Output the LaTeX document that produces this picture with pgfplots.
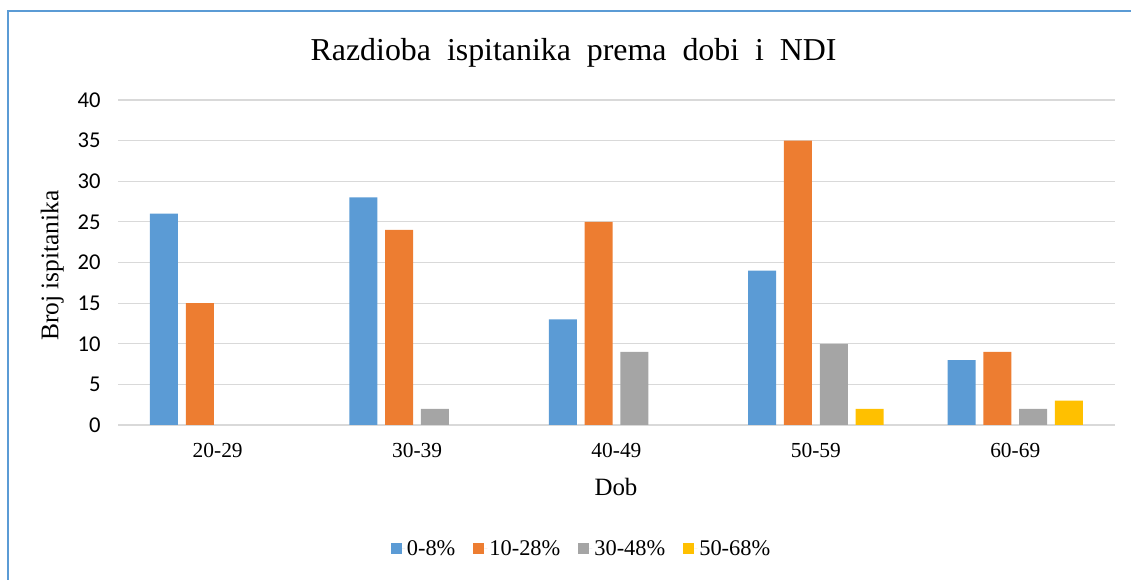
\documentclass[border=0pt]{standalone}
\usepackage{fontspec}
\setmainfont{Liberation Serif}
\newfontfamily\calibri{Carlito}
\usepackage{pgfplots}
\pgfplotsset{compat=1.18}
\definecolor{cblue}{HTML}{5B9BD5}
\definecolor{corange}{HTML}{ED7D31}
\definecolor{cgray}{HTML}{A5A5A5}
\definecolor{cyellow}{HTML}{FFC000}
\definecolor{cgrid}{HTML}{D9D9D9}
\begin{document}
\begin{tikzpicture}
\path[use as bounding box] (0,0) rectangle (1131bp,580bp);
\draw[cblue, line width=2bp] (8bp,0) -- (8bp,569bp) -- (1131bp,569bp);
\begin{axis}[
  at={(118bp,155bp)}, anchor=south west,
  scale only axis, width=997bp, height=325bp,
  xmin=-0.5, xmax=4.5, ymin=0, ymax=40,
  ytick={0,5,...,40},
  xtick={0,1,2,3,4},
  xticklabels={20-29,30-39,40-49,50-59,60-69},
  major tick length=0pt,
  axis line style={draw=none},
  ymajorgrids, grid style={cgrid, line width=1.2bp},
  /pgf/number format/assume math mode=true,
  yticklabel style={font=\calibri\fontsize{22.7}{22.7}\selectfont, xshift=-14bp},
  xticklabel style={font=\fontsize{21.5}{21.5}\selectfont, yshift=-15bp},
  title={Razdioba\ \ ispitanika\ \ prema\ \ dobi\ \ i\ \ NDI},
  title style={font=\fontsize{32}{32}\selectfont, at={(rel axis cs:0.457,1.128)}, anchor=center},
  xlabel={Dob},
  xlabel style={font=\fontsize{25}{25}\selectfont, at={(rel axis cs:0.4995,-0.19)}, anchor=center},
  ylabel={Broj ispitanika},
  ylabel style={font=\fontsize{25.5}{25.5}\selectfont, at={(rel axis cs:-0.066,0.49)}, anchor=center, rotate=0},
  ybar, bar width=28bp,
  legend style={draw=none, at={(0.465,-0.38)}, anchor=center, font=\fontsize{22.5}{22.5}\selectfont, /tikz/every even column/.append style={column sep=16bp}},
  legend columns=-1,
  legend image code/.code={\fill[#1] (0bp,-5.5bp) rectangle (11bp,5.5bp); \path (11bp,0) -- (14bp,0);},
]
\addplot[fill=cblue, draw=none, bar shift=-53.7bp] coordinates {(0,26) (1,28) (2,13) (3,19) (4,8)};
\addplot[fill=corange, draw=none, bar shift=-17.9bp] coordinates {(0,15) (1,24) (2,25) (3,35) (4,9)};
\addplot[fill=cgray, draw=none, bar shift=17.9bp] coordinates {(0,0) (1,2) (2,9) (3,10) (4,2)};
\addplot[fill=cyellow, draw=none, bar shift=53.7bp] coordinates {(0,0) (1,0) (2,0) (3,2) (4,3)};
\legend{0-8\%,10-28\%,30-48\%,50-68\%}
\end{axis}
\end{tikzpicture}
\end{document}
